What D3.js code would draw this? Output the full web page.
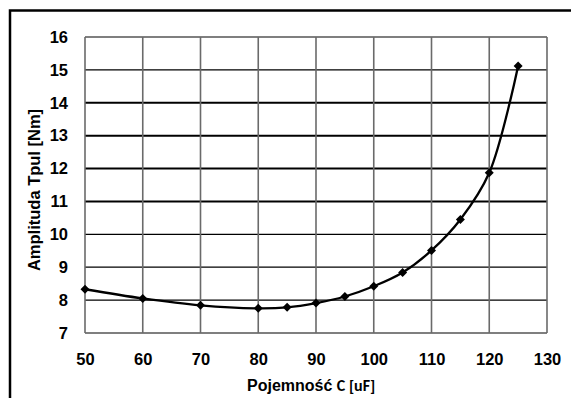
<!DOCTYPE html>
<html>
<head>
<meta charset="utf-8">
<script src="https://cdn.jsdelivr.net/npm/d3@7"></script>
<style>
  body { margin: 0; background: #fff; }
  svg { display: block; }
  text { font-family: Arial, "Liberation Sans", sans-serif; }
</style>
</head>
<body>
<svg id="chart" width="571" height="398"></svg>
<script>
// capacitance [uF]
const capacity = [50, 60, 70, 80, 85, 90, 95, 100, 105, 110, 115, 120, 125];
// torque pulsation amplitude [Nm]
const amplitude = [8.33, 8.05, 7.84, 7.75, 7.78, 7.91, 8.11, 8.42, 8.84, 9.51, 10.45, 11.87, 15.12];

const xTicks = [50, 60, 70, 80, 90, 100, 110, 120, 130];
const yTicks = [7, 8, 9, 10, 11, 12, 13, 14, 15, 16];
const thickRows = [11, 12, 13, 14];

const data = capacity.map((c, i) => ({ c: c, v: amplitude[i] }));

const svg = d3.select('#chart');
const width = 571;
const height = 398;

// outer frame (cut off at right and bottom like the source)
svg.append('path')
  .attr('d', 'M10,' + (height + 5) + 'V10.5H' + (width + 5))
  .attr('fill', 'none')
  .attr('stroke', '#000')
  .attr('stroke-width', 2.5);

const margin = { top: 37, left: 85 };

const grp = svg.append('g')
  .attr('transform', 'translate(' + margin.left + ',' + margin.top + ')');

const xScale = d3.scaleLinear().domain([50, 130]).range([0, 462]);
const yScale = d3.scaleLinear().domain([7, 16]).range([296, 0]);

// horizontal grid
grp.selectAll('.hgrid')
  .data(yTicks)
  .enter()
  .append('line')
  .attr('class', 'hgrid')
  .attr('x1', 0)
  .attr('x2', xScale(130))
  .attr('y1', (d) => yScale(d))
  .attr('y2', (d) => yScale(d))
  .attr('stroke', '#000')
  .attr('stroke-width', (d) => thickRows.includes(d) ? 2 : 1.2);

// vertical grid
grp.selectAll('.vgrid')
  .data(xTicks)
  .enter()
  .append('line')
  .attr('class', 'vgrid')
  .attr('x1', (d) => xScale(d))
  .attr('x2', (d) => xScale(d))
  .attr('y1', 0)
  .attr('y2', yScale(7))
  .attr('stroke', '#6a6a6a')
  .attr('stroke-width', 1.6);

// axes (labels only, the grid stands for the lines)
const xAxis = grp.append('g')
  .attr('transform', 'translate(0,' + yScale(7) + ')')
  .call(d3.axisBottom(xScale).tickValues(xTicks).tickSize(0).tickPadding(20));
xAxis.select('.domain').remove();
xAxis.selectAll('text')
  .attr('font-family', 'Arial, "Liberation Sans", sans-serif')
  .attr('font-size', 16.5)
  .attr('font-weight', 'bold')
  .attr('fill', '#000');

const yAxis = grp.append('g')
  .call(d3.axisLeft(yScale).tickValues(yTicks).tickSize(0).tickPadding(17));
yAxis.select('.domain').remove();
yAxis.selectAll('text')
  .attr('font-family', 'Arial, "Liberation Sans", sans-serif')
  .attr('font-size', 16.5)
  .attr('font-weight', 'bold')
  .attr('fill', '#000');

// smoothed series line
const line = d3.line()
  .x((d) => xScale(d.c))
  .y((d) => yScale(d.v))
  .curve(d3.curveCatmullRom.alpha(0.5));

grp.append('path')
  .datum(data)
  .attr('fill', 'none')
  .attr('stroke', '#000')
  .attr('stroke-width', 2.3)
  .attr('d', line);

// diamond markers
grp.selectAll('.dot')
  .data(data)
  .enter()
  .append('path')
  .attr('class', 'dot')
  .attr('transform', (d) => 'translate(' + xScale(d.c) + ',' + yScale(d.v) + ')')
  .attr('d', 'M0,-4.5L4.5,0L0,4.5L-4.5,0Z')
  .attr('fill', '#000');

// x axis title
const xTitle = svg.append('text')
  .attr('x', 247)
  .attr('y', 391)
  .attr('fill', '#000');
xTitle.append('tspan')
  .attr('font-family', 'Arial, "Liberation Sans", sans-serif')
  .attr('font-size', 16)
  .attr('font-weight', 'bold')
  .text('Pojemność ');
xTitle.append('tspan')
  .attr('font-family', 'Carlito, "Open Sans", "DejaVu Sans", sans-serif')
  .attr('font-size', 16)
  .attr('font-weight', 'bold')
  .text('C [uF]');

// y axis title
svg.append('text')
  .attr('transform', 'translate(40,190) rotate(-90)')
  .attr('text-anchor', 'middle')
  .attr('font-size', 16.5)
  .attr('font-weight', 'bold')
  .attr('fill', '#000')
  .text('Amplituda Tpul [Nm]');
</script>
</body>
</html>
